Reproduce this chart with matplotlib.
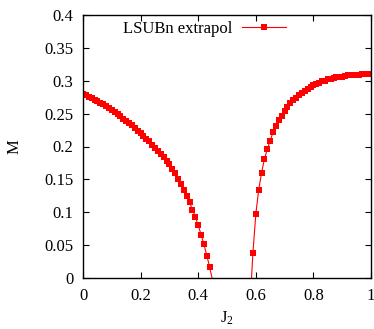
import numpy as np
import matplotlib
matplotlib.use("Agg")
import matplotlib.pyplot as plt

# Order parameter M vs J2, LSUBn extrapolation (two branches, 0.01 steps)
j2_left = np.round(np.arange(0.0, 0.455, 0.01), 2)
m_left = [0.280, 0.278, 0.276, 0.274, 0.271, 0.269, 0.266, 0.264, 0.261, 0.258,
          0.255, 0.252, 0.249, 0.246, 0.242, 0.239, 0.236, 0.232, 0.228, 0.224,
          0.220, 0.216, 0.212, 0.208, 0.203, 0.198, 0.193, 0.189, 0.184, 0.178,
          0.173, 0.166, 0.159, 0.151, 0.143, 0.134, 0.125, 0.115, 0.104, 0.093,
          0.080, 0.066, 0.051, 0.034, 0.016, -0.004]

j2_right = np.round(np.arange(0.58, 1.005, 0.01), 2)
m_right = [-0.040, 0.038, 0.097, 0.134, 0.160, 0.181, 0.196, 0.209, 0.222, 0.231,
           0.240, 0.247, 0.254, 0.260, 0.266, 0.271, 0.274, 0.279, 0.282, 0.285,
           0.288, 0.291, 0.293, 0.295, 0.297, 0.299, 0.300, 0.302, 0.303, 0.304,
           0.305, 0.306, 0.306, 0.307, 0.308, 0.308, 0.309, 0.309, 0.309, 0.310,
           0.310, 0.310, 0.310]

xticks = [0, 0.2, 0.4, 0.6, 0.8, 1.0]
xtick_labels = ["0", "0.2", "0.4", "0.6", "0.8", "1"]
yticks = [0, 0.05, 0.1, 0.15, 0.2, 0.25, 0.3, 0.35, 0.4]
ytick_labels = ["0", "0.05", "0.1", "0.15", "0.2", "0.25", "0.3", "0.35", "0.4"]

plt.rcParams["font.family"] = ["Liberation Serif", "DejaVu Serif"]
plt.rcParams["mathtext.fontset"] = "custom"
plt.rcParams["mathtext.rm"] = "Liberation Serif"
plt.rcParams["mathtext.it"] = "Liberation Serif"

fig = plt.figure(figsize=(3.74, 3.29), dpi=100)
ax = fig.add_axes([83 / 374, 1 - 278 / 329, 288 / 374, 263 / 329])

style = dict(color="red", linewidth=0.8, marker="s", markersize=4.0,
             markeredgewidth=0)
ax.plot(j2_left, m_left, label="LSUBn extrapol", **style)
ax.plot(j2_right, m_right, **style)

ax.set_xlim(0, 1)
ax.set_ylim(0, 0.4)
ax.set_xticks(xticks)
ax.set_xticklabels(xtick_labels)
ax.set_yticks(yticks)
ax.set_yticklabels(ytick_labels)
ax.tick_params(direction="in", top=True, right=True, length=4, width=0.8,
               labelsize=12, pad=7)
for s in ax.spines.values():
    s.set_linewidth(1.0)

ax.set_xlabel("J$_2$", fontsize=12)
ax.xaxis.set_label_coords(0.5, -0.122)
ax.set_ylabel("M", fontsize=12)
ax.yaxis.set_label_coords(-0.209, 0.5)

ax.legend(loc="upper left", bbox_to_anchor=(0.139, 0.976), frameon=False,
          markerfirst=False, fontsize=12, handlelength=2.64, handletextpad=0.6,
          borderaxespad=0, borderpad=0)

fig.savefig("out.png", dpi=100)
